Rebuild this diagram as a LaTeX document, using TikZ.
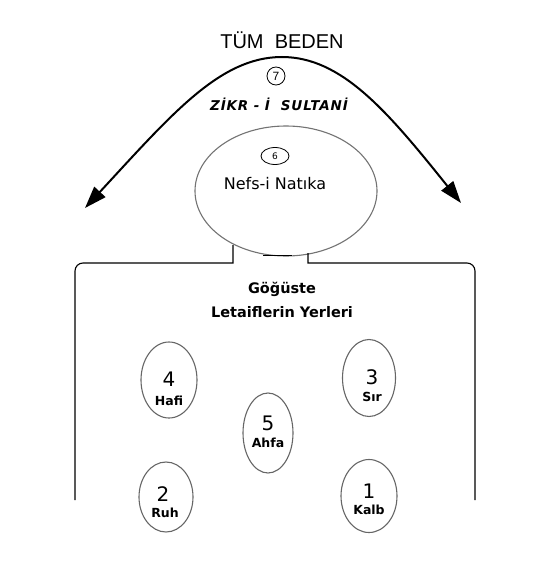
\documentclass[tikz,border=0pt]{standalone}
\usepackage{fontspec}
\setmainfont{DejaVu Sans}
\newfontfamily\arialf{Liberation Sans}
\newfontfamily\zikrf[LetterSpace=6]{DejaVu Sans}
\usetikzlibrary{shapes.geometric,arrows.meta}
\tikzset{
  letaif/.style={draw=black!60, line width=1.1pt, ellipse, inner sep=0pt},
  digit/.style={inner sep=0pt, font=\fontsize{20}{20}\selectfont},
  lbl/.style={inner sep=0pt, font=\bfseries\fontsize{12.5}{13}\selectfont},
  boxline/.style={draw=black, line width=1.1pt},
  bigarc/.style={draw=black, line width=2pt, {Triangle[length=22pt,width=15pt]}-{Triangle[length=22pt,width=15pt]}},
}
\begin{document}
\begin{tikzpicture}[x=1pt,y=-1pt]
\useasboundingbox (0,0) rectangle (555,586);
% title
\node[inner sep=0pt, font=\arialf\fontsize{20}{20}\selectfont] (title) at (282,40) {TÜM\ \ BEDEN};
% big arc with arrows
\coordinate (la) at (85,208);
\coordinate (top) at (282,57);
\coordinate (ra) at (461,203);
\draw[bigarc] (la) .. controls (172,114) and (220,57) .. (top) .. controls (342,57) and (388,112) .. (ra);
% 7 and Zikr
\node[draw, circle, line width=0.8pt, minimum size=18pt, inner sep=0pt, font=\arialf\fontsize{12}{12}\selectfont] (c7) at (276,76) {7};
\node[inner sep=0pt, font=\zikrf\bfseries\itshape\fontsize{13.5}{14}\selectfont] (zikr) at (279,104) {ZİKR - İ\ \ SULTANİ};
% Nefs ellipse
\node[draw=black!55, line width=1.1pt, ellipse, minimum width=182pt, minimum height=130pt, inner sep=0pt] (nefs) at (286,191) {};
\node[draw, ellipse, line width=0.8pt, minimum width=28pt, minimum height=17pt, inner sep=0pt, font=\fontsize{9}{9}\selectfont] (c6) at (275,156) {6};
\node[inner sep=0pt, font=\fontsize{16}{16}\selectfont] (nefst) at (275,184) {Nefs-i Natıka};
\draw[line width=1.6pt] (263,255.5) -- (292,255.5);
% chest box
\draw[boxline] (233,245) -- (233,263) -- (83,263) arc[start angle=270, end angle=180, radius=8] -- (75,500);
\draw[boxline] (308,253) -- (308,263) -- (467,263) arc[start angle=270, end angle=360, radius=8] -- (475,500);
\node[inner sep=0pt, font=\bfseries\fontsize{14.5}{14.5}\selectfont] (gog) at (282,289) {Göğüste};
\node[inner sep=0pt, font=\bfseries\fontsize{14.5}{14.5}\selectfont] (let) at (282,312) {Letaiflerin Yerleri};
% letaif ellipses
\node[letaif, minimum width=56pt, minimum height=76pt] (e4) at (169,380) {};
\node[digit] (n4) at (169,379) {4};
\node[lbl] (l4) at (169,401) {Hafi};
\node[letaif, minimum width=53pt, minimum height=77pt] (e3) at (369,378) {};
\node[digit] (n3) at (372,377) {3};
\node[lbl] (l3) at (372,397) {Sır};
\node[letaif, minimum width=50pt, minimum height=80pt] (e5) at (268,433) {};
\node[digit] (n5) at (268,423) {5};
\node[lbl] (l5) at (268,443) {Ahfa};
\node[letaif, minimum width=54pt, minimum height=70pt] (e2) at (166,497) {};
\node[digit] (n2) at (163,494) {2};
\node[lbl] (l2) at (165,513) {Ruh};
\node[letaif, minimum width=56pt, minimum height=73pt] (e1) at (369,496) {};
\node[digit] (n1) at (369,491) {1};
\node[lbl] (l1) at (369,510) {Kalb};
\end{tikzpicture}
\end{document}
